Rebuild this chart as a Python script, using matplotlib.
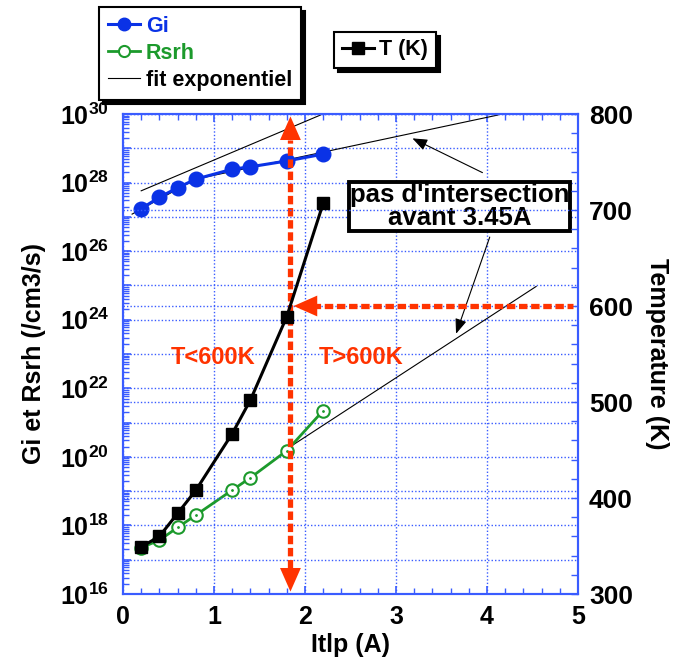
import matplotlib
matplotlib.use('Agg')
import matplotlib.pyplot as plt
import numpy as np
from matplotlib.ticker import LogLocator, MultipleLocator, FuncFormatter, NullFormatter
from matplotlib.lines import Line2D

plt.rcParams['font.family'] = ['Liberation Sans', 'DejaVu Sans']
plt.rcParams['font.weight'] = 'bold'
plt.rcParams['mathtext.fontset'] = 'custom'
plt.rcParams['mathtext.rm'] = 'Liberation Sans:bold'
plt.rcParams['mathtext.bf'] = 'Liberation Sans:bold'
plt.rcParams['mathtext.it'] = 'Liberation Sans:bold'

# ---------------- data ----------------
current = [0.2, 0.4, 0.6, 0.8, 1.2, 1.4, 1.8, 2.2]                 # Itlp (A)
gi_log10 = [27.24, 27.57, 27.85, 28.10, 28.39, 28.46, 28.63, 28.83]  # log10 Gi
rsrh_log10 = [17.35, 17.57, 17.94, 18.30, 19.03, 19.39, 20.18, 21.35]  # log10 Rsrh
temperature = [349, 360, 384, 408, 467, 502, 589, 707]               # T (K)

# exponential fits (end points, log10 values)
fit_gi_low_x = [0.1, 0.8]
fit_gi_low_log10 = [27.08, 28.10]
fit_gi_high_x = [0.8, 4.12]
fit_gi_high_log10 = [28.10, 29.97]
fit_gi_steep_x = [0.2, 2.17]
fit_gi_steep_log10 = [27.76, 29.97]
fit_rsrh_x = [1.8, 4.54]
fit_rsrh_log10 = [20.23, 24.97]

i_limit = 1.84      # A, where T reaches 600 K
t_limit = 600       # K

BLUE = '#0a32e6'
GREEN = '#1c9a2c'
RED = '#ff3300'
AXBLUE = '#3a5cff'

gi = 10.0 ** np.array(gi_log10)
rsrh = 10.0 ** np.array(rsrh_log10)

fig = plt.figure(figsize=(6.83, 6.64), dpi=100)
ax = fig.add_axes([123/683, (664-594)/664, (578-123)/683, (594-114)/664])
ax2 = ax.twinx()

ax.set_yscale('log')
ax.set_xlim(0, 5)
ax.set_ylim(1e16, 1e30)
ax2.set_ylim(300, 800)

# grids
gkw = dict(color=AXBLUE, linestyle=(0, (1, 1.5)), linewidth=1.0)
ax.grid(True, which='major', axis='both', **gkw)
ax2.grid(True, which='major', axis='y', **gkw)
ax.set_axisbelow(True)
ax2.set_axisbelow(True)

# fits
for fx, fl in [(fit_gi_low_x, fit_gi_low_log10), (fit_gi_high_x, fit_gi_high_log10),
               (fit_gi_steep_x, fit_gi_steep_log10), (fit_rsrh_x, fit_rsrh_log10)]:
    ax.plot(fx, 10.0 ** np.array(fl), color='black', lw=0.8, zorder=2)

# Gi
ax.plot(current, gi, color=BLUE, lw=2.2, marker='o', ms=10.5, mfc=BLUE, mec=BLUE, zorder=3)
# Rsrh
ax.plot(current, rsrh, color=GREEN, lw=2.0, marker='o', ms=9, mfc='white', mec=GREEN,
        mew=1.5, zorder=3)
ax.plot(current, rsrh, ls='none', marker='.', ms=2, color=GREEN, zorder=3)

# T
ax2.plot(current, temperature, color='black', lw=2.2, marker='s', ms=9, zorder=3)

# vertical red dashed arrow (double-headed)
xt = ax.get_xaxis_transform()
ax.plot([i_limit, i_limit], [0.055, 0.945], transform=xt, color=RED, lw=3.8,
        linestyle=(0, (1.6, 0.7)), zorder=4, solid_capstyle='butt', dash_capstyle='butt')
head = 'simple,head_length=1.7,head_width=1.5,tail_width=0.01'
ax.annotate('', xy=(i_limit, 0.995), xytext=(i_limit, 0.94), xycoords=xt, textcoords=xt,
            arrowprops=dict(arrowstyle=head, color=RED, lw=0, shrinkA=0, shrinkB=0), zorder=5)
ax.annotate('', xy=(i_limit, 0.005), xytext=(i_limit, 0.06), xycoords=xt, textcoords=xt,
            arrowprops=dict(arrowstyle=head, color=RED, lw=0, shrinkA=0, shrinkB=0), zorder=5)

# horizontal red dashed arrow at 600 K
ax2.plot([1.95, 4.94], [t_limit, t_limit], color=RED, lw=3.8,
         linestyle=(0, (1.6, 0.7)), zorder=4, dash_capstyle='butt')
ax2.annotate('', xy=(1.875, t_limit), xytext=(2.14, t_limit),
             arrowprops=dict(arrowstyle=head, color=RED, lw=0, shrinkA=0, shrinkB=0), zorder=5)

# red texts
ax.text(0.99, 10**22.9, 'T<600K', color=RED, fontsize=17, fontweight='bold',
        ha='center', va='center', zorder=6)
ax.text(2.62, 10**22.9, 'T>600K', color=RED, fontsize=17, fontweight='bold',
        ha='center', va='center', zorder=6)

# boxed annotation with arrows
ax.text(3.70, 10**27.31, "pas d'intersection\navant 3.45A", fontsize=18.5, fontweight='bold',
        ha='center', va='center', linespacing=0.95, zorder=6,
        bbox=dict(boxstyle='square,pad=0.03', fc='white', ec='black', lw=2.8))
akw = dict(arrowstyle='-|>,head_length=0.9,head_width=0.35', color='black', lw=0.8,
           shrinkA=0, shrinkB=0)
ax.annotate('', xy=(3.18, 10**29.29), xytext=(3.95, 10**28.29), arrowprops=akw, zorder=6)
ax.annotate('', xy=(3.66, 10**23.59), xytext=(4.03, 10**26.41), arrowprops=akw, zorder=6)

# ticks
ax.xaxis.set_major_locator(MultipleLocator(1))
ax.xaxis.set_minor_locator(MultipleLocator(0.2))
ax.yaxis.set_major_locator(LogLocator(base=10, numticks=30))
ax.yaxis.set_minor_locator(LogLocator(base=10, subs=np.arange(2, 10), numticks=300))
ax.yaxis.set_minor_formatter(NullFormatter())

def logfmt(v, pos):
    e = int(round(np.log10(v)))
    return r'$\mathbf{10^{%d}}$' % e if e % 2 == 0 else ''

ax.yaxis.set_major_formatter(FuncFormatter(logfmt))
ax2.yaxis.set_major_locator(MultipleLocator(100))
ax2.yaxis.set_minor_locator(MultipleLocator(20))

ax.tick_params(axis='both', which='both', direction='in', color=AXBLUE, labelcolor='black',
               labelsize=18, top=True, right=False)
ax.tick_params(axis='both', which='major', length=6, width=1.2)
ax.tick_params(axis='both', which='minor', length=4, width=1.0)
ax.tick_params(axis='x', pad=8)
ax.tick_params(axis='y', pad=10)
ax2.tick_params(axis='y', which='both', direction='in', color=AXBLUE, labelcolor='black',
                labelsize=19, length=5, width=1.0, pad=8)
for a in (ax, ax2):
    for s in a.spines.values():
        s.set_color(AXBLUE)
        s.set_linewidth(1.5)
for lab in ax.get_xticklabels() + ax2.get_yticklabels():
    lab.set_fontweight('bold')

ax.set_xlabel('Itlp (A)', fontsize=18, fontweight='bold', labelpad=3)
ax.set_ylabel('Gi et Rsrh (/cm3/s)', fontsize=18, fontweight='bold', labelpad=10)
ax2.set_ylabel('Temperature (K)', fontsize=18, fontweight='bold', rotation=270, labelpad=26)

# legends
h_gi = Line2D([], [], color=BLUE, lw=2.2, marker='o', ms=9, mfc=BLUE, mec=BLUE)
h_rs = Line2D([], [], color=GREEN, lw=2.0, marker='o', ms=8, mfc='white', mec=GREEN, mew=1.5)
h_fit = Line2D([], [], color='black', lw=0.8)
leg1 = fig.legend([h_gi, h_rs, h_fit], ['Gi', 'Rsrh', 'fit exponentiel'],
                  loc='upper left', bbox_to_anchor=(99/683, 1-6.7/664),
                  prop=dict(size=15.5, weight='bold'), fancybox=False, framealpha=1,
                  edgecolor='black', labelspacing=0.28, handlelength=1.5, handletextpad=0.25,
                  borderpad=0.42, borderaxespad=0,
                  shadow=dict(color='black', alpha=1, ox=3, oy=-3))
leg1.get_frame().set_linewidth(1.5)
for t, c in zip(leg1.get_texts(), [BLUE, GREEN, 'black']):
    t.set_color(c)

h_t = Line2D([], [], color='black', lw=2.2, marker='s', ms=8)
leg2 = fig.legend([h_t], ['T (K)'], loc='upper left', bbox_to_anchor=(334/683, 1-31.7/664),
                  prop=dict(size=15.5, weight='bold'), fancybox=False, framealpha=1,
                  edgecolor='black', handlelength=1.5, handletextpad=0.25,
                  borderpad=0.35, borderaxespad=0,
                  shadow=dict(color='black', alpha=1, ox=3, oy=-3))
leg2.get_frame().set_linewidth(1.5)

fig.savefig('out.png', dpi=100)
